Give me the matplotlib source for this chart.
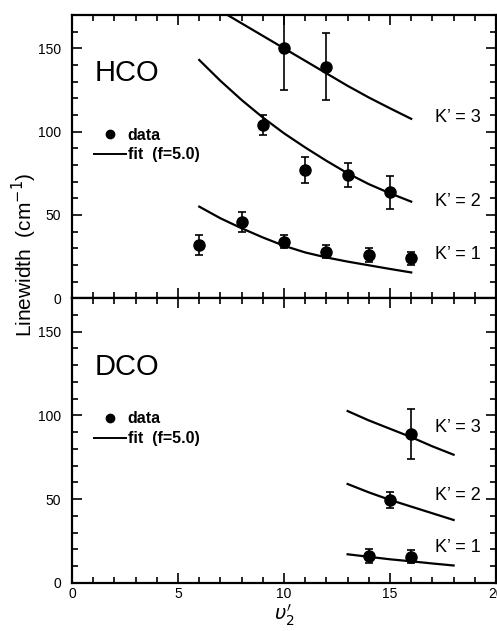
#!/usr/bin/env python
import matplotlib.pyplot as plt
from matplotlib.lines import Line2D
from matplotlib.ticker import MultipleLocator

plt.rcParams.update({'font.family': 'Liberation Sans', 'font.size': 10})

# HCO linewidths vs v2' for K' = 1, 2, 3
hco_k1_x = [6, 8, 10, 12, 14, 16]
hco_k1_y = [32, 46, 34, 28, 26, 24]
hco_k1_err = [6, 6, 4, 4, 4, 4]
hco_k2_x = [9, 11, 13, 15]
hco_k2_y = [104, 77, 74, 63.5]
hco_k2_err = [6, 8, 7, 10]
hco_k3_x = [10, 12]
hco_k3_y = [150, 139]
hco_k3_err = [25, 20]

hco_fit_x1 = [6, 7, 8, 9, 10, 11, 12, 13, 14, 15, 16]
hco_fit_k1 = [55, 48, 42, 36.5, 31.5, 27.5, 24.5, 22, 19.8, 17.6, 15.5]
hco_fit_k2 = [143, 130.5, 119, 108.5, 99, 90.5, 82.5, 75, 68.5, 63, 58]
hco_fit_x3 = [7, 8, 9, 10, 11, 12, 13, 14, 15, 16]
hco_fit_k3 = [172.5, 165, 157.5, 150, 142.5, 135, 127.5, 120.5, 114, 107.7]

# DCO
dco_k1_x = [14, 16]
dco_k1_y = [16, 15.5]
dco_k1_err = [4, 4]
dco_k2_x = [15]
dco_k2_y = [49.5]
dco_k2_err = [5]
dco_k3_x = [16]
dco_k3_y = [89]
dco_k3_err = [15]

dco_fit_x = [13, 14, 15, 16, 17, 18]
dco_fit_k1 = [17, 15.5, 14, 12.8, 11.5, 10.3]
dco_fit_k2 = [59, 54, 49.5, 45.5, 41.5, 37.5]
dco_fit_k3 = [102.6, 97, 92, 87, 81.5, 76.5]

k_labels = ['K\u2019 = 1', 'K\u2019 = 2', 'K\u2019 = 3']
hco_label_y = [26, 58, 108.5]
dco_label_y = [21, 52, 93]

fig = plt.figure(figsize=(4.97, 6.31), dpi=100)
ax1 = fig.add_axes([0.145, 0.5273, 0.853, 0.4489])
ax2 = fig.add_axes([0.145, 0.0765, 0.853, 0.4508])

eb = dict(fmt='o', color='black', ms=8, elinewidth=1.2, capsize=3, capthick=1.2, lw=0)


def style(ax):
    ax.set_xlim(0, 20)
    ax.set_ylim(0, 170)
    ax.xaxis.set_major_locator(MultipleLocator(5))
    ax.xaxis.set_minor_locator(MultipleLocator(1))
    ax.yaxis.set_major_locator(MultipleLocator(50))
    ax.yaxis.set_minor_locator(MultipleLocator(10))
    ax.tick_params(which='both', direction='in', top=True, right=True, width=1.2)
    ax.tick_params(which='major', length=7, labelsize=10)
    ax.tick_params(which='minor', length=4)
    ax.tick_params(axis='y', which='major', pad=8)
    ax.tick_params(axis='x', which='major', pad=3)
    for s in ax.spines.values():
        s.set_linewidth(1.6)


def legend(ax):
    handles = [Line2D([], [], color='black', marker='o', ms=6, lw=0),
               Line2D([], [], color='black', lw=1.4)]
    ax.legend(handles, ['data', 'fit  (f=5.0)'], loc='center left',
              bbox_to_anchor=(0.052, 0.541), frameon=False, handlelength=2.0,
              handletextpad=0.1, labelspacing=0.3, borderaxespad=0, borderpad=0,
              prop={'size': 11.5, 'weight': 'bold'})


# top panel
style(ax1)
ax1.errorbar(hco_k1_x, hco_k1_y, yerr=hco_k1_err, **eb)
ax1.errorbar(hco_k2_x, hco_k2_y, yerr=hco_k2_err, **eb)
ax1.errorbar(hco_k3_x, hco_k3_y, yerr=hco_k3_err, **eb)
ax1.plot(hco_fit_x1, hco_fit_k1, color='black', lw=1.6)
ax1.plot(hco_fit_x1, hco_fit_k2, color='black', lw=1.6)
ax1.plot(hco_fit_x3, hco_fit_k3, color='black', lw=1.6)
for lab, yy in zip(k_labels, hco_label_y):
    ax1.text(17.1, yy, lab, fontsize=13, va='center', ha='left')
ax1.text(1.05, 135, 'HCO', fontsize=21, va='center', ha='left')
legend(ax1)
ax1.tick_params(labelbottom=False)

# bottom panel
style(ax2)
ax2.errorbar(dco_k1_x, dco_k1_y, yerr=dco_k1_err, **eb)
ax2.errorbar(dco_k2_x, dco_k2_y, yerr=dco_k2_err, **eb)
ax2.errorbar(dco_k3_x, dco_k3_y, yerr=dco_k3_err, **eb)
ax2.plot(dco_fit_x, dco_fit_k1, color='black', lw=1.6)
ax2.plot(dco_fit_x, dco_fit_k2, color='black', lw=1.6)
ax2.plot(dco_fit_x, dco_fit_k3, color='black', lw=1.6)
for lab, yy in zip(k_labels, dco_label_y):
    ax2.text(17.1, yy, lab, fontsize=13, va='center', ha='left')
ax2.text(1.05, 129, 'DCO', fontsize=21, va='center', ha='left')
legend(ax2)
ax2.set_xlabel(r"$\upsilon_2^{\prime}$", fontsize=14, labelpad=1)

fig.text(0.05, 0.596, 'Linewidth  (cm$^{-1}$)', rotation=90, fontsize=15,
         ha='center', va='center')

plt.savefig('out.png', dpi=100)
